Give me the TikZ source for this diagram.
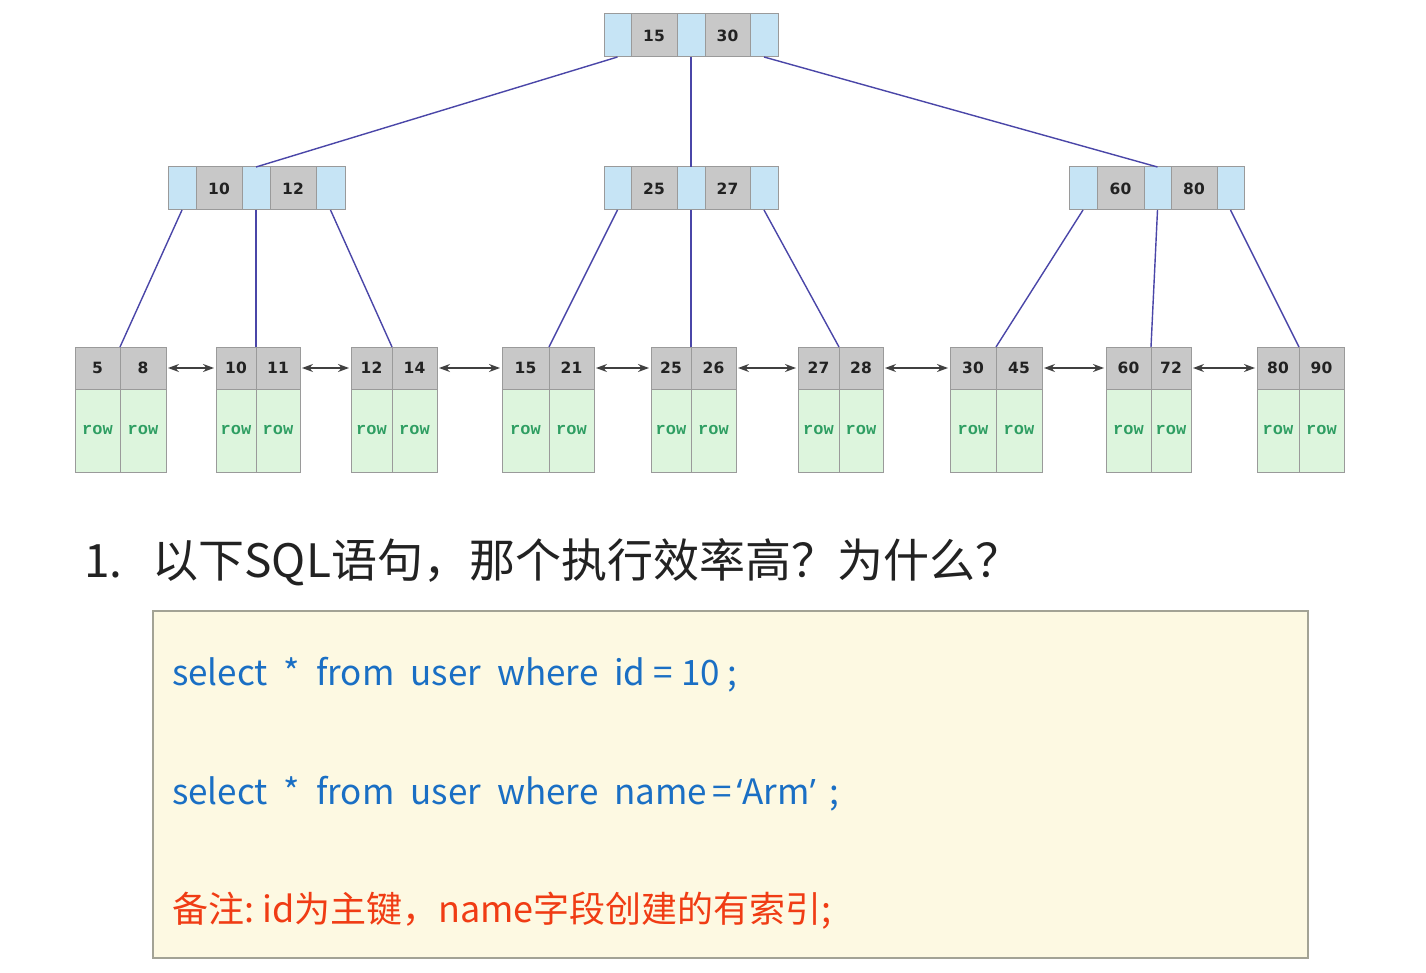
\documentclass[tikz,border=0pt]{standalone}
\usepackage{fontspec}
\setmainfont{Noto Sans CJK SC}
\newfontfamily\cjk{Noto Sans CJK SC}
\newfontfamily\numf{DejaVu Sans}
\newfontfamily\monof{Liberation Mono}
\newfontfamily\latf{Open Sans}
\usetikzlibrary{arrows.meta}
\definecolor{cellblue}{HTML}{C6E4F5}
\definecolor{cellgray}{HTML}{C8C8C8}
\definecolor{cellgreen}{HTML}{DDF5DD}
\definecolor{cellborder}{HTML}{9A9A9A}
\definecolor{linkblue}{HTML}{4A46A8}
\definecolor{rowgreen}{HTML}{2E9E62}
\definecolor{codeblue}{HTML}{1A6FC4}
\definecolor{notered}{HTML}{F03C14}
\definecolor{boxfill}{HTML}{FDF9E2}
\definecolor{boxborder}{HTML}{A3A395}
\definecolor{headtext}{HTML}{222222}
\begin{document}
\begin{tikzpicture}[x=1pt,y=-1pt,
  cellbase/.style={draw=cellborder, line width=1pt, inner sep=0pt, anchor=north west, outer sep=0pt},
  bcell/.style={cellbase, fill=cellblue, minimum height=43},
  gcell/.style={cellbase, fill=cellgray, minimum height=43, font=\numf\bfseries\fontsize{15.5}{17}\selectfont, text=headtext},
  hcell/.style={cellbase, fill=cellgray, minimum height=42, font=\numf\bfseries\fontsize{15.5}{17}\selectfont, text=headtext},
  rcell/.style={cellbase, fill=cellgreen, minimum height=83, font=\monof\bfseries\fontsize{17}{19}\selectfont, text=rowgreen},
  link/.style={draw=linkblue, line width=1.4pt},
  nextarrow/.style={draw=black!75, line width=1.2pt, {Stealth[length=11pt,width=8pt]}-{Stealth[length=11pt,width=8pt]}, shorten <=2pt, shorten >=2pt},
  codeline/.style={anchor=base west, inner sep=0pt, text=codeblue, font=\cjk\fontsize{35}{40}\selectfont},
]
\useasboundingbox (0,0) rectangle (1426,973);
\fill[white] (0,0) rectangle (1426,973);

% ---------- root node ----------
\node[bcell, minimum width=27] (t1) at (604,14) {};
\node[gcell, minimum width=46] (t2) at (631,14) {15};
\node[bcell, minimum width=28] (t3) at (677,14) {};
\node[gcell, minimum width=45] (t4) at (705,14) {30};
\node[bcell, minimum width=28] (t5) at (750,14) {};

% ---------- level 2 ----------
\node[bcell, minimum width=28] (a1) at (168,167) {};
\node[gcell, minimum width=46] (a2) at (196,167) {10};
\node[bcell, minimum width=28] (a3) at (242,167) {};
\node[gcell, minimum width=46] (a4) at (270,167) {12};
\node[bcell, minimum width=29] (a5) at (316,167) {};

\node[bcell, minimum width=27] (b1) at (604,167) {};
\node[gcell, minimum width=46] (b2) at (631,167) {25};
\node[bcell, minimum width=28] (b3) at (677,167) {};
\node[gcell, minimum width=45] (b4) at (705,167) {27};
\node[bcell, minimum width=28] (b5) at (750,167) {};

\node[bcell, minimum width=28] (c1) at (1069,167) {};
\node[gcell, minimum width=47] (c2) at (1097,167) {60};
\node[bcell, minimum width=27] (c3) at (1144,167) {};
\node[gcell, minimum width=46] (c4) at (1171,167) {80};
\node[bcell, minimum width=27] (c5) at (1217,167) {};

% ---------- leaves ----------
\foreach \i/\a/\s/\b/\ka/\kb in {1/75/120/166/5/8, 2/216/256/300/10/11, 3/351/392/437/12/14,
  4/502/549/594/15/21, 5/651/691/736/25/26, 6/798/839/883/27/28,
  7/950/996/1042/30/45, 8/1106/1151/1191/60/72, 9/1257/1299/1344/80/90}{
  \node[hcell, minimum width=\s-\a] (L\i a) at (\a,347) {\ka};
  \node[hcell, minimum width=\b-\s] (L\i b) at (\s,347) {\kb};
  \node[rcell, minimum width=\s-\a] (R\i a) at (\a,389) {row};
  \node[rcell, minimum width=\b-\s] (R\i b) at (\s,389) {row};
}

% ---------- links ----------
\draw[link] (t1.south) -- (a3.north);
\draw[link] (t3.south) -- (b3.north);
\draw[link] (t5.south) -- (c3.north);

\draw[link] (a1.south) -- (L1a.north east);
\draw[link] (a3.south) -- (L2a.north east);
\draw[link] (a5.south) -- (L3a.north east);
\draw[link] (b1.south) -- (L4a.north east);
\draw[link] (b3.south) -- (L5a.north east);
\draw[link] (b5.south) -- (L6a.north east);
\draw[link] (c1.south) -- (L7a.north east);
\draw[link] (c3.south) -- (L8a.north east);
\draw[link] (c5.south) -- (L9a.north east);

% ---------- sibling arrows ----------
\foreach \i/\j in {1/2,2/3,3/4,4/5,5/6,6/7,7/8,8/9}{
  \draw[nextarrow] (L\i b.east) -- (L\j a.west);
}

% ---------- question ----------
\node[anchor=base west, inner sep=0pt, text=headtext, font=\cjk\fontsize{46}{52}\selectfont] (q) at (84,577) {1.\hspace{30pt}以下SQL语句，那个执行效率高？为什么？};

% ---------- code box ----------
\node[draw=boxborder, fill=boxfill, line width=1.5pt, anchor=north west, minimum width=1155, minimum height=347, inner sep=0pt] (box) at (152,610) {};
\node[codeline] (s1) at (172,685) {select\hspace{16pt}*\hspace{16pt}from\hspace{16pt}user\hspace{16pt}where\hspace{16pt}id\hspace{8pt}=\hspace{8pt}10\hspace{8pt};};
\node[codeline] (s2) at (172,804) {select\hspace{16pt}*\hspace{16pt}from\hspace{16pt}user\hspace{16pt}where\hspace{16pt}name\hspace{5pt}=\hspace{5pt}{\latf ‘}Arm{\latf ’}\hspace{14pt};};
\node[codeline, text=notered, font=\cjk\fontsize{36}{41}\selectfont] (s3) at (172,922) {备注:\hspace{8pt}id为主键，name字段创建的有索引;};
\end{tikzpicture}
\end{document}
